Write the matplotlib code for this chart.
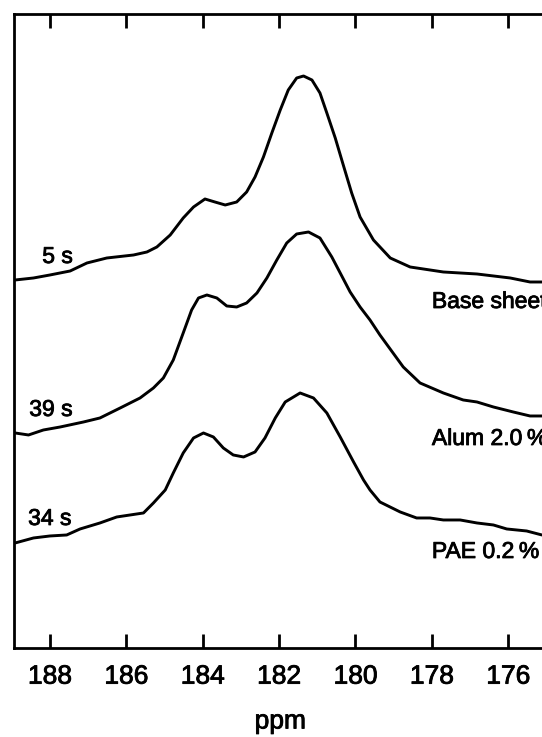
import matplotlib.pyplot as plt
import matplotlib.patheffects as pe

plt.rcParams['font.family'] = ['Liberation Sans', 'DejaVu Sans']

# spectra (ppm, intensity in arbitrary units)
base_ppm = [188.91, 188.43, 188.00, 187.47, 187.03, 186.51, 185.81, 185.46, 185.20,
            184.85, 184.51, 184.24, 183.94, 183.68, 183.41, 183.11, 182.85, 182.63,
            182.41, 182.19, 181.97, 181.76, 181.54, 181.36, 181.14, 180.93, 180.75,
            180.53, 180.32, 180.10, 179.88, 179.53, 179.09, 178.57, 177.70, 176.82,
            175.95, 175.43, 175.12]
base_int = [368, 370, 373, 377, 385, 390, 393, 396, 401,
            413, 430, 441, 449, 446, 443, 446, 456, 471,
            491, 515, 538, 558, 570, 572, 568, 555, 535,
            510, 483, 455, 431, 408, 390, 381, 376, 374,
            370, 366, 366]

alum_ppm = [188.91, 188.56, 188.17, 187.73, 187.12, 186.69, 186.16, 185.64, 185.29,
            185.03, 184.77, 184.51, 184.29, 184.11, 183.89, 183.63, 183.37, 183.11,
            182.85, 182.58, 182.32, 182.06, 181.80, 181.54, 181.23, 180.93, 180.62,
            180.40, 180.14, 179.88, 179.62, 179.36, 178.75, 178.31, 177.70, 177.18,
            176.82, 176.39, 175.87, 175.43, 175.12]
alum_int = [215, 213, 218, 221, 226, 230, 240, 250, 260,
            270, 288, 315, 338, 350, 353, 350, 342, 341,
            345, 355, 370, 388, 405, 414, 416, 410, 391,
            375, 356, 341, 328, 313, 281, 265, 255, 248,
            246, 241, 236, 232, 232]

pae_ppm = [188.91, 188.43, 188.00, 187.56, 187.21, 186.69, 186.25, 185.55, 185.29,
           184.98, 184.77, 184.51, 184.24, 183.98, 183.72, 183.46, 183.20, 182.93,
           182.63, 182.37, 182.10, 181.84, 181.45, 181.10, 180.75, 180.40, 180.05,
           179.79, 179.62, 179.36, 178.83, 178.40, 178.05, 177.70, 177.26, 176.82,
           176.39, 176.04, 175.52, 175.12]
pae_int = [105, 110, 112, 113, 119, 125, 131, 135, 145,
           158, 175, 195, 210, 215, 211, 200, 193, 191,
           196, 210, 230, 246, 255, 250, 235, 211, 186,
           168, 158, 146, 136, 130, 130, 128, 128, 125,
           123, 119, 117, 113]

ticks = [188, 186, 184, 182, 180, 178, 176]

# the scanned print has slightly heavy lettering
heavy = [pe.withStroke(linewidth=0.6, foreground='black')]

fig = plt.figure(figsize=(5.42, 7.37), dpi=100)
# right spine falls just outside the picture, as in the scan
ax = fig.add_axes([0.0258, 0.1208, 0.9825, 0.8602])

for x, y in [(base_ppm, base_int), (alum_ppm, alum_int), (pae_ppm, pae_int)]:
    ax.plot(x, y, color='black', lw=2.1, solid_joinstyle='round', solid_capstyle='round')

ax.set_xlim(188.94, 175.0)
ax.set_ylim(0, 634)
ax.set_xticks(ticks)
ax.set_xticklabels([str(t) for t in ticks], fontsize=19, path_effects=heavy)
ax.set_yticks([])
ax.tick_params(axis='x', direction='in', length=10, width=2, top=True, pad=12)
for s in ax.spines.values():
    s.set_linewidth(2)

# sample labels
labels = [(188.20, 385, '5 s'), (188.54, 232, '39 s'), (188.57, 123, '34 s'),
          (178.0, 340, 'Base sheet'), (178.0, 203, 'Alum 2.0\u2009%'), (178.0, 90, 'PAE 0.2\u2009%')]
for x, y, t in labels:
    ax.text(x, y, t, fontsize=16.5, ha='left', va='baseline', path_effects=heavy)

ax.set_xlabel('ppm', fontsize=19, labelpad=15, path_effects=heavy)

fig.savefig('out.png', dpi=100)
